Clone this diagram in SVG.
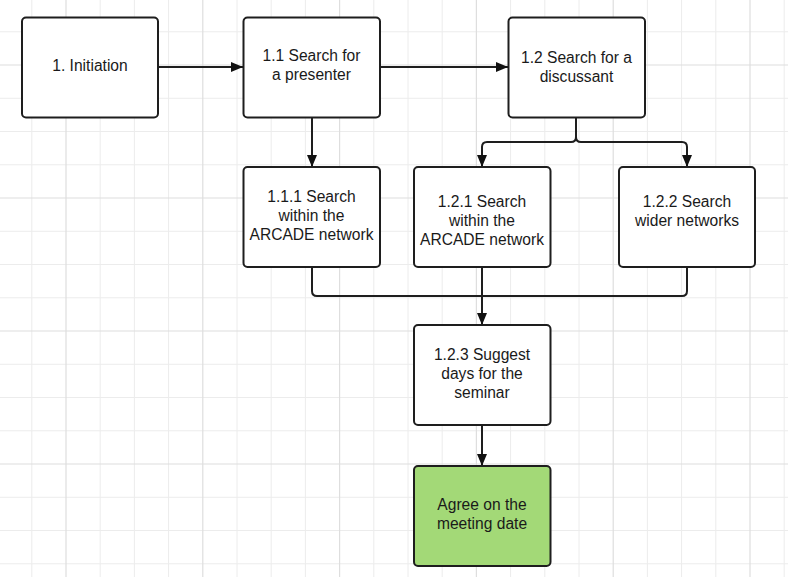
<svg xmlns="http://www.w3.org/2000/svg" width="788" height="577" viewBox="0 0 788 577">
<defs>
<style>
.minor{stroke:#ececec;stroke-width:1;fill:none}
.major{stroke:#dedede;stroke-width:1.2;fill:none}
.box{fill:#fff;stroke:#1e1e1e;stroke-width:2}
.green{fill:#a3d977}
.lbl{font-family:"Liberation Sans",Arial,Helvetica,sans-serif;font-size:15.6px;fill:#1a1a1a;text-anchor:middle}
.edge{fill:none;stroke:#1e1e1e;stroke-width:2}
</style>
<marker id="arr" markerWidth="12" markerHeight="12" viewBox="0 0 12 12" refX="12" refY="6" orient="auto" markerUnits="userSpaceOnUse">
<path d="M0,1 L12,6 L0,11 Z" fill="#111"/>
</marker>
</defs>
<rect width="788" height="577" fill="#fff"/>
<g id="grid">
<path class="minor" d="M31.8,0V577M100.2,0V577M134.4,0V577M168.6,0V577M237,0V577M271.2,0V577M305.4,0V577M373.8,0V577M408,0V577M442.2,0V577M510.6,0V577M544.8,0V577M579,0V577M647.4,0V577M681.6,0V577M715.8,0V577M784.2,0V577M0,31.75H788M0,98.25H788M0,131.5H788M0,164.75H788M0,231.25H788M0,264.5H788M0,297.75H788M0,364.25H788M0,397.5H788M0,430.75H788M0,497.25H788M0,530.5H788M0,563.75H788"/>
<path class="major" d="M66,0V577M202.8,0V577M339.6,0V577M476.4,0V577M613.2,0V577M750,0V577M0,65H788M0,198H788M0,331H788M0,464H788"/>
</g>
<g id="connectors">
<path class="edge" d="M158,67H243" marker-end="url(#arr)"/>
<path class="edge" d="M380,67H508" marker-end="url(#arr)"/>
<path class="edge" d="M312,117V167" marker-end="url(#arr)"/>
<path class="edge" d="M576,117V137Q576,142 571,142H487Q482,142 482,147V167" marker-end="url(#arr)"/>
<path class="edge" d="M576,137Q576,142 581,142H682Q687,142 687,147V167" marker-end="url(#arr)"/>
<path class="edge" d="M312,267V291Q312,296 317,296H682Q687,296 687,291V267"/>
<path class="edge" d="M482,267V325" marker-end="url(#arr)"/>
<path class="edge" d="M482,425V466" marker-end="url(#arr)"/>
</g>
<g id="n1">
<rect class="box" x="22" y="17.5" width="136" height="100" rx="4"/>
<text class="lbl" x="90" y="71">1. Initiation</text>
</g>
<g id="n11">
<rect class="box" x="243.5" y="17.5" width="136.5" height="100" rx="4"/>
<text class="lbl" x="311.5" y="61">1.1 Search for</text>
<text class="lbl" x="311.5" y="80">a presenter</text>
</g>
<g id="n12">
<rect class="box" x="508.5" y="17.5" width="136.5" height="100" rx="4"/>
<text class="lbl" x="576.5" y="63">1.2 Search for a</text>
<text class="lbl" x="576.5" y="82">discussant</text>
</g>
<g id="n111">
<rect class="box" x="243.5" y="167" width="136.5" height="100" rx="4"/>
<text class="lbl" x="311.5" y="202">1.1.1 Search</text>
<text class="lbl" x="311.5" y="221">within the</text>
<text class="lbl" x="311.5" y="240">ARCADE network</text>
</g>
<g id="n121">
<rect class="box" x="414" y="167" width="136.5" height="100" rx="4"/>
<text class="lbl" x="482" y="207">1.2.1 Search</text>
<text class="lbl" x="482" y="226">within the</text>
<text class="lbl" x="482" y="245">ARCADE network</text>
</g>
<g id="n122">
<rect class="box" x="619" y="167" width="136" height="100" rx="4"/>
<text class="lbl" x="687" y="207">1.2.2 Search</text>
<text class="lbl" x="687" y="226">wider networks</text>
</g>
<g id="n123">
<rect class="box" x="414" y="325" width="136.5" height="100" rx="4"/>
<text class="lbl" x="482" y="360">1.2.3 Suggest</text>
<text class="lbl" x="482" y="379">days for the</text>
<text class="lbl" x="482" y="398">seminar</text>
</g>
<g id="agree">
<rect class="box green" x="414" y="466" width="136.5" height="100" rx="4"/>
<text class="lbl" x="482" y="510">Agree on the</text>
<text class="lbl" x="482" y="529">meeting date</text>
</g>
</svg>
